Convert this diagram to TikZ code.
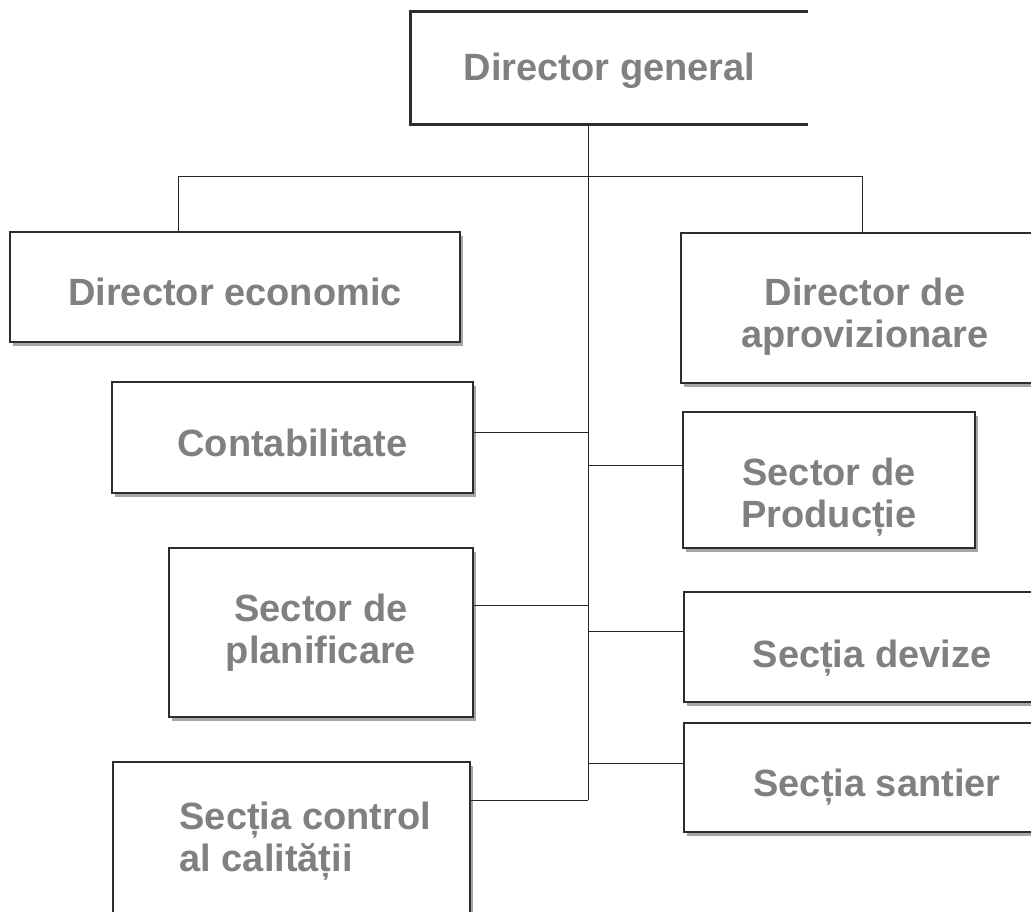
\documentclass[tikz,border=0pt]{standalone}
\usepackage{fontspec}
\setmainfont{Liberation Sans}
\usetikzlibrary{positioning,shadows}
\definecolor{textgray}{RGB}{128,128,128}
\definecolor{linegray}{RGB}{45,45,45}

\begin{document}
\begin{tikzpicture}[x=1pt, y=-1pt,
  txt/.style={text=textgray, font=\fontsize{38}{42}\selectfont\bfseries, align=center},
  box/.style={draw=linegray, line width=1.3pt, fill=white,
    drop shadow={shadow xshift=3pt, shadow yshift=-4pt, fill=black!35, opacity=1}},
  link/.style={line width=1pt, draw=black!85}]
  \useasboundingbox (0,0) rectangle (1031,912);
  \clip (0,0) rectangle (1031,912);

  % Director general
  \node[txt, minimum width=397pt, minimum height=112pt, yshift=-3pt] (dg) at (609.5,68) {Director general};
  \draw[line width=3pt, linegray] ([yshift=3pt]dg.north east) -- ([yshift=3pt]dg.north west)
    -- ([yshift=3pt]dg.south west) -- ([yshift=3pt]dg.south east);

  % Left column
  \node[box, minimum width=450pt, minimum height=110pt,
    label={[txt, yshift=-5pt]center:Director economic}] (econ) at (235,287) {};
  \node[box, minimum width=361pt, minimum height=111pt,
    label={[txt, yshift=-5pt]center:Contabilitate}] (cont) at (292.5,437.5) {};
  \node[box, minimum width=304pt, minimum height=169pt,
    label={[txt]center:{Sector de\\planificare}}] (plan) at (321,632.5) {};
  \node[box, minimum width=357pt, minimum height=158pt] (control) at (291.5,841) {};
  \node[txt, align=left, inner sep=0pt, right=67pt of control.west] (controltext) {Secția control\\al calității};

  % Right column
  \node[box, minimum width=368pt, minimum height=150pt,
    label={[txt, yshift=-9pt]center:{Director de\\aprovizionare}}] (aprov) at (865,308) {};
  \node[box, minimum width=292pt, minimum height=136pt,
    label={[txt, yshift=-17pt]center:{Sector de\\Producție}}] (prod) at (829,480) {};
  \node[box, minimum width=376pt, minimum height=110pt,
    label={[txt, yshift=-11pt]center:Secția devize}] (devize) at (872,647) {};
  \node[box, minimum width=386pt, minimum height=109pt,
    label={[txt, yshift=-10pt]center:Secția santier}] (santier) at (877,777.5) {};

  % Junctions on the trunk
  \coordinate (bar) at (588,177);
  \coordinate (barL) at (178,177);
  \coordinate (barR) at (862,177);
  \foreach \n/\y in {1/432,2/465,3/605,4/631,5/763,6/800}
    \coordinate (j\n) at (588,\y);

  % Trunk and top bar
  \draw[link] ([yshift=3pt]dg.south -| bar) -- (j6);
  \draw[link] (econ.north -| barL) -- (barL) -- (barR) -- (aprov.north -| barR);

  % Branches
  \draw[link] (cont.east |- j1) -- (j1);
  \draw[link] (j2) -- (prod.west |- j2);
  \draw[link] (plan.east |- j3) -- (j3);
  \draw[link] (j4) -- (devize.west |- j4);
  \draw[link] (j5) -- (santier.west |- j5);
  \draw[link] (control.east |- j6) -- (j6);
\end{tikzpicture}
\end{document}
